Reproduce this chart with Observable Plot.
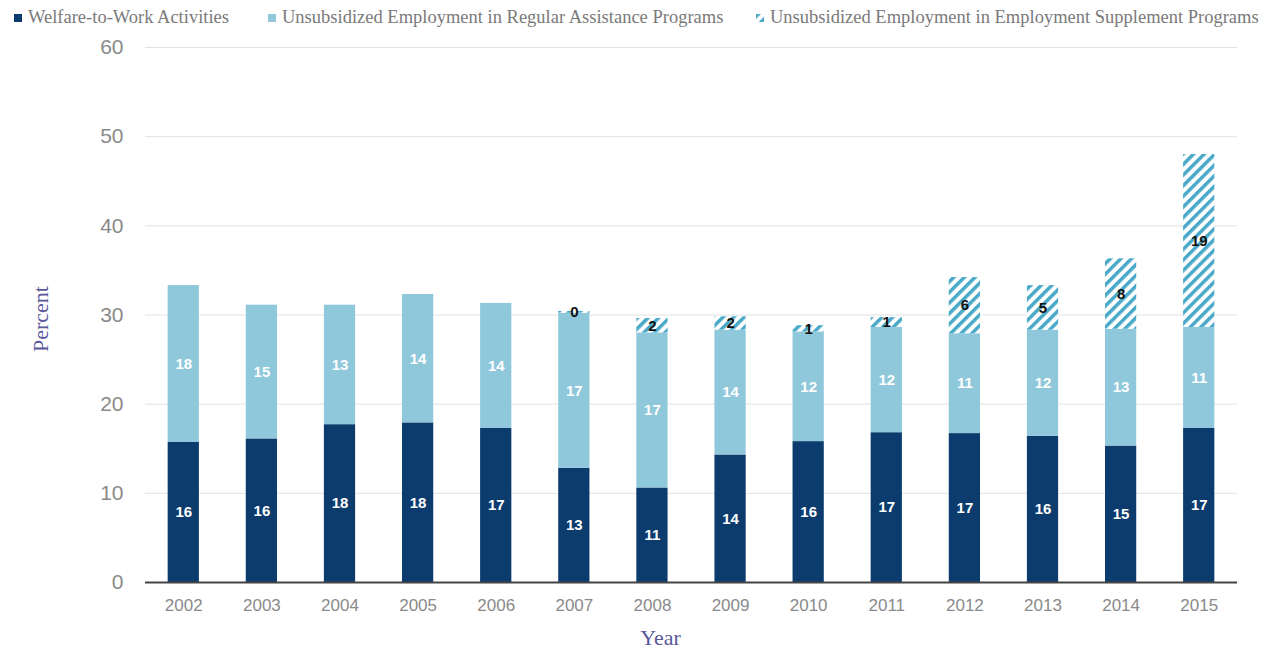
<!DOCTYPE html>
<html>
<head>
<meta charset="utf-8">
<script src="https://cdn.jsdelivr.net/npm/d3@7"></script>
<script src="https://cdn.jsdelivr.net/npm/@observablehq/plot@0.6"></script>
<style>
  body { margin: 0; background: #fff; }
  #legend { position: relative; height: 30px; width: 1265px; font-family: "Liberation Serif", "Times New Roman", serif; font-size: 18.5px; color: #7a7a7a; }
  #legend .item { position: absolute; top: 7px; white-space: nowrap; display: flex; align-items: center; }
  #legend svg { margin-right: 6px; }
</style>
</head>
<body>
<div id="legend"></div>
<div id="chart"></div>
<script>
const years = ["2002","2003","2004","2005","2006","2007","2008","2009","2010","2011","2012","2013","2014","2015"];
const welfareToWork = [15.7, 16.1, 17.7, 17.9, 17.3, 12.8, 10.6, 14.3, 15.8, 16.8, 16.7, 16.4, 15.3, 17.3];
const regularAssistance = [17.6, 15.0, 13.4, 14.4, 14.0, 17.4, 17.4, 14.0, 12.3, 11.8, 11.2, 11.9, 13.1, 11.3];
const employmentSupplement = [null, null, null, null, null, 0.2, 1.6, 1.5, 0.7, 1.1, 6.3, 5.0, 7.9, 19.4];
const seriesNames = [
  "Welfare-to-Work Activities",
  "Unsubsidized Employment in Regular Assistance Programs",
  "Unsubsidized Employment in Employment Supplement Programs"
];
const yTicks = [0, 10, 20, 30, 40, 50, 60];

const seriesColors = ["#0c3c6e", "#8fc7db", "url(#hatchPattern)"];

const rows = [];
years.forEach((yr, i) => {
  [welfareToWork, regularAssistance, employmentSupplement].forEach((arr, s) => {
    if (arr[i] != null) rows.push({year: yr, series: seriesNames[s], value: arr[i]});
  });
});

const fmt = d3.format(".0f");

const chart = Plot.plot({
  width: 1265,
  height: 619,
  marginTop: 17,
  marginBottom: 67,
  marginLeft: 145,
  marginRight: 28,
  style: {background: "#fff", overflow: "visible"},
  x: {domain: years, paddingInner: 0.6, paddingOuter: 0.29, round: false, label: null},
  y: {domain: [0, 60], label: null},
  color: {domain: seriesNames, range: seriesColors},
  marks: [
    Plot.gridY(yTicks.filter(t => t > 0), {stroke: "#e2e2e2", strokeOpacity: 1, strokeWidth: 1}),
    Plot.axisY({ticks: yTicks, tickSize: 0, tickPadding: 22, fontSize: 21, fill: "#8a8a8a", fontFamily: "Liberation Sans, Arial, sans-serif", label: null}),
    Plot.axisX({tickSize: 0, tickPadding: 16, fontSize: 17, fill: "#8a8a8a", fontFamily: "Liberation Sans, Arial, sans-serif", label: null}),
    Plot.barY(rows, Plot.stackY({x: "year", y: "value", fill: "series", z: "series", order: seriesNames})),
    Plot.text(rows, Plot.stackY({x: "year", y: "value", z: "series", order: seriesNames,
      text: d => d.series === seriesNames[2] ? null : fmt(d.value),
      fill: "white", fontWeight: "bold", fontSize: 15, fontFamily: "Liberation Sans, Arial, sans-serif"})),
    Plot.text(rows, Plot.stackY({x: "year", y: "value", z: "series", order: seriesNames,
      text: d => d.series === seriesNames[2] ? fmt(d.value) : null,
      fill: "#111", fontWeight: "bold", fontSize: 15, fontFamily: "Liberation Sans, Arial, sans-serif"})),
    Plot.ruleY([0], {stroke: "#444", strokeWidth: 2}),
    Plot.text(["Percent"], {frameAnchor: "left", dx: -105, dy: 37, rotate: -90, fontSize: 22, fill: "#58589a", fontFamily: "Liberation Serif, Times New Roman, serif"}),
    Plot.text(["Year"], {frameAnchor: "bottom", dx: -31, dy: 62, fontSize: 22, fill: "#58589a", fontFamily: "Liberation Serif, Times New Roman, serif"})
  ]
});

// hatch pattern definition
const svg = d3.select(chart);
const defs = svg.insert("defs", ":first-child");
const pat = defs.append("pattern")
  .attr("id", "hatchPattern")
  .attr("patternUnits", "userSpaceOnUse")
  .attr("width", 7.5).attr("height", 7.5)
  .attr("patternTransform", "rotate(45)");
pat.append("rect").attr("width", 7.5).attr("height", 7.5).attr("fill", "#ffffff");
pat.append("rect").attr("width", 3.5).attr("height", 7.5).attr("fill", "#48a9c8");

document.getElementById("chart").appendChild(chart);

// legend
const legend = d3.select("#legend");
const lefts = [14, 268, 756];
seriesNames.forEach((name, i) => {
  const item = legend.append("div").attr("class", "item").style("left", lefts[i] + "px");
  const sw = item.append("svg").attr("width", 8).attr("height", 8);
  sw.append("rect").attr("width", 8).attr("height", 8).attr("fill", seriesColors[i]);
  item.append("span").text(name);
});
</script>
</body>
</html>
